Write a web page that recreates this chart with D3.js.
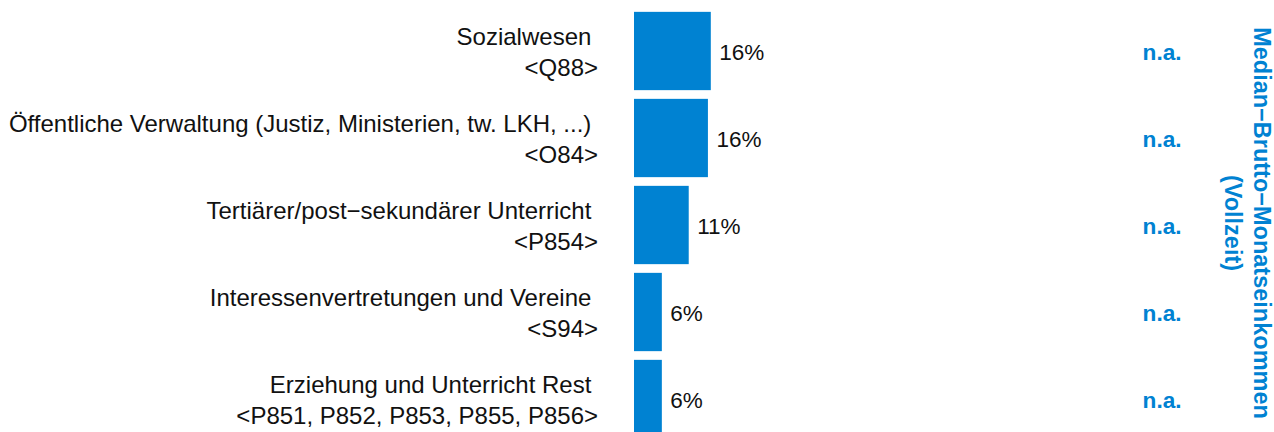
<!DOCTYPE html>
<html>
<head>
<meta charset="utf-8">
<script src="https://cdn.jsdelivr.net/npm/d3@7"></script>
<style>
  html, body { margin: 0; padding: 0; background: #fff; }
  svg { display: block; font-family: "Liberation Sans", Arial, Helvetica, sans-serif; }
</style>
</head>
<body>
<svg id="chart" width="1274" height="432"></svg>
<script>
const categories = [
  "Sozialwesen",
  "Öffentliche Verwaltung (Justiz, Ministerien, tw. LKH, ...)",
  "Tertiärer/post−sekundärer Unterricht",
  "Interessenvertretungen und Vereine",
  "Erziehung und Unterricht Rest"
];
const codes = [
  "<Q88>",
  "<O84>",
  "<P854>",
  "<S94>",
  "<P851, P852, P853, P855, P856>"
];
const shares = [16.0, 15.4, 11.4, 5.8, 5.8];
const valueLabels = ["16%", "16%", "11%", "6%", "6%"];
const incomeLabels = ["n.a.", "n.a.", "n.a.", "n.a.", "n.a."];
const axisTitle = ["Median−Brutto−Monatseinkommen", "(Vollzeit)"];

const blue = "#0082D2";
const svg = d3.select("#chart");

const y = d3.scaleBand()
  .domain(categories)
  .range([7.5, 442.5])
  .paddingInner(0.1)
  .paddingOuter(0.05);

const x = d3.scaleLinear()
  .domain([0, 100])
  .range([634, 1114]);

const rows = categories.map((c, i) => ({
  cat: c, code: codes[i], v: shares[i], lab: valueLabels[i], inc: incomeLabels[i]
}));

// bars
svg.append("g").selectAll("rect")
  .data(rows).join("rect")
  .attr("x", x(0))
  .attr("y", d => y(d.cat))
  .attr("width", d => x(d.v) - x(0))
  .attr("height", y.bandwidth())
  .attr("fill", blue);

// value labels
svg.append("g").selectAll("text")
  .data(rows).join("text")
  .attr("x", d => x(d.v) + 8.5)
  .attr("y", d => y(d.cat) + y.bandwidth() / 2 + 8.5)
  .attr("font-size", "22.5px")
  .attr("fill", "#111")
  .text(d => d.lab);

// category labels (two lines)
const catG = svg.append("g").attr("font-size", "24px").attr("fill", "#111").attr("text-anchor", "end");
catG.selectAll("text.l1")
  .data(rows).join("text")
  .attr("class", "l1")
  .attr("x", 598)
  .attr("y", d => y(d.cat) + y.bandwidth() / 2 - 6)
  .style("white-space", "pre")
  .text(d => d.cat + " ");
catG.selectAll("text.l2")
  .data(rows).join("text")
  .attr("class", "l2")
  .attr("x", 598)
  .attr("y", d => y(d.cat) + y.bandwidth() / 2 + 24.5)
  .text(d => d.code);

// n.a. labels
svg.append("g").selectAll("text")
  .data(rows).join("text")
  .attr("x", 1181.5)
  .attr("y", d => y(d.cat) + y.bandwidth() / 2 + 9)
  .attr("text-anchor", "end")
  .attr("font-size", "22.6px")
  .attr("font-weight", "bold")
  .attr("fill", blue)
  .text(d => d.inc);

// rotated axis title
const tG = svg.append("g")
  .attr("transform", "translate(1254,223) rotate(90)");
tG.selectAll("text")
  .data(axisTitle).join("text")
  .attr("x", 0)
  .attr("y", (d, i) => i * 29)
  .attr("text-anchor", "middle")
  .attr("font-size", "23.5px")
  .attr("font-weight", "bold")
  .attr("fill", blue)
  .text(d => d);
</script>
</body>
</html>
